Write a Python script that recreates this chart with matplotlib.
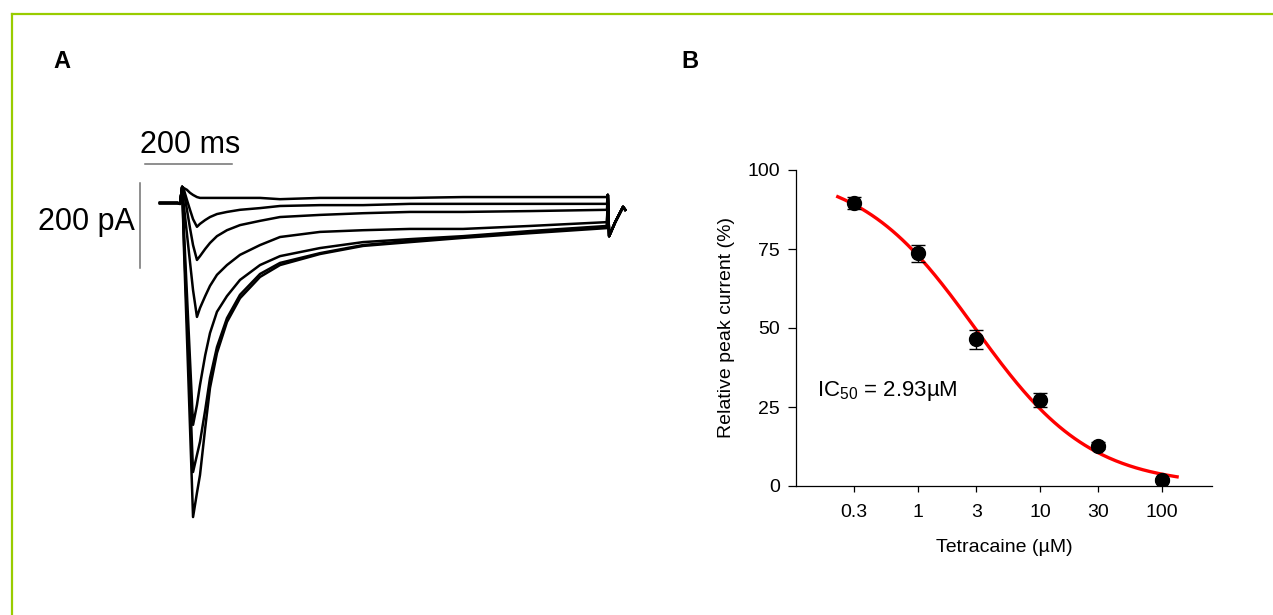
import numpy as np
import matplotlib.pyplot as plt
from matplotlib.lines import Line2D

plt.rcParams['font.family'] = ['Liberation Sans', 'DejaVu Sans']
plt.rcParams['mathtext.fontset'] = 'custom'
plt.rcParams['mathtext.rm'] = 'Liberation Sans'
plt.rcParams['mathtext.it'] = 'Liberation Sans:italic'

# ---- panel A: current traces (ms, pA relative to holding baseline)
t_ms = [0, 41, 46, 51, 55, 62, 69, 76, 85, 92, 104, 115, 131, 154, 184, 230,
        276, 368, 467, 575, 697, 851, 1028, 1030, 1033, 1047, 1065, 1070]
tail = [19, -78, -45, -9, -16]
trace1 = [0, 0, -2, 38, 35, 31, 24, 19, 14, 12, 12, 12, 12, 12, 12, 12,
          9, 12, 12, 12, 14, 14, 14] + tail
trace2 = [0, 0, -2, 38, 31, 7, -16, -38, -56, -49, -40, -33, -26, -21, -16, -12,
          -7, -5, -5, -2, -2, -2, -2] + tail
trace3 = [0, 0, -2, 38, 26, -16, -59, -99, -134, -125, -108, -94, -78, -64, -52, -42,
          -33, -28, -24, -21, -21, -19, -16] + tail
trace4 = [0, 0, -2, 38, -7, -73, -139, -205, -268, -247, -219, -195, -169, -146, -122, -99,
          -80, -68, -64, -61, -61, -54, -45] + tail
trace5 = [0, 0, -2, 38, -64, -216, -369, -522, -475, -428, -358, -306, -256, -219, -181, -146,
          -125, -106, -92, -85, -78, -66, -54] + tail
trace6 = [0, 0, -2, 38, -85, -268, -449, -633, -593, -562, -487, -412, -339, -271, -216, -167,
          -141, -118, -99, -89, -80, -68, -56] + tail
trace7 = [0, 0, -2, 38, -104, -315, -527, -739, -682, -640, -529, -435, -353, -280, -224, -174,
          -146, -120, -101, -92, -82, -71, -59] + tail
traces = [trace1, trace2, trace3, trace4, trace5, trace6, trace7]

# ---- panel B: dose-response
conc = [0.3, 1, 3, 10, 30, 100]
rel_current = [89.6, 73.6, 46.4, 27.2, 12.7, 1.9]
rel_sem = [2.0, 2.8, 3.0, 2.3, 1.1, 0.5]
ic50 = 2.93
hill_n = 0.92
fit_range = (0.22, 133)

W, H = 1273, 615
fig = plt.figure(figsize=(W / 100, H / 100), dpi=100)

# green frame
green = '#99cc00'
fig.add_artist(Line2D([11.5 / W, 1.01], [1 - 14 / H, 1 - 14 / H], color=green, lw=1.6,
                      transform=fig.transFigure))
fig.add_artist(Line2D([11.5 / W, 11.5 / W], [-0.01, 1 - 14 / H], color=green, lw=1.6,
                      transform=fig.transFigure))

fig.text(62 / W, 1 - 61 / H, 'A', fontsize=17, fontweight='bold', ha='center', va='center')
fig.text(690 / W, 1 - 61 / H, 'B', fontsize=17, fontweight='bold', ha='center', va='center')

# panel A
axA = fig.add_axes([100 / W, 1 - 540 / H, 560 / W, 440 / H])
axA.axis('off')
axA.set_xlim(-138, 1150)
axA.set_ylim(-793, 242.4)
for tr in traces:
    axA.plot(t_ms, tr, color='black', lw=1.8, solid_joinstyle='round')
axA.plot([-34.5, 165.5], [92, 92], color='#707070', lw=1.1)
axA.plot([-46, -46], [47, -153], color='#707070', lw=1.1)
axA.text(69, 136, '200 ms', fontsize=22, ha='center', va='center')
axA.text(-57, -45, '200 pA', fontsize=22, ha='right', va='center')

# panel B
axB = fig.add_axes([796 / W, 1 - 486 / H, 416 / W, 316 / H])
xf = np.logspace(np.log10(fit_range[0]), np.log10(fit_range[1]), 200)
yf = 100 / (1 + (xf / ic50) ** hill_n)
axB.plot(xf, yf, color='red', lw=2.4, zorder=2)
axB.errorbar(conc, rel_current, yerr=rel_sem, fmt='o', color='black', ms=10,
             capsize=4.7, elinewidth=1, capthick=1, zorder=3)
axB.set_xscale('log')
axB.set_xlim(0.1, 257)
axB.set_ylim(0, 100)
axB.set_xticks(conc)
axB.set_xticklabels(['0.3', '1', '3', '10', '30', '100'])
axB.xaxis.set_minor_locator(plt.NullLocator())
axB.set_yticks([0, 25, 50, 75, 100])
for s in ['top', 'right']:
    axB.spines[s].set_visible(False)
for s in ['left', 'bottom']:
    axB.spines[s].set_linewidth(0.9)
axB.tick_params(axis='y', length=5.5, width=0.9, labelsize=14, pad=6)
axB.tick_params(axis='x', length=4, width=0.9, labelsize=14, pad=9)
axB.set_xlabel('Tetracaine (µM)', fontsize=14, labelpad=13)
axB.set_ylabel('Relative peak current (%)', fontsize=14, labelpad=9)
axB.text(0.149, 28.5, r'IC$_{\mathregular{50}}$ = 2.93µM', fontsize=16, va='baseline')

fig.savefig('out.png', dpi=100)
